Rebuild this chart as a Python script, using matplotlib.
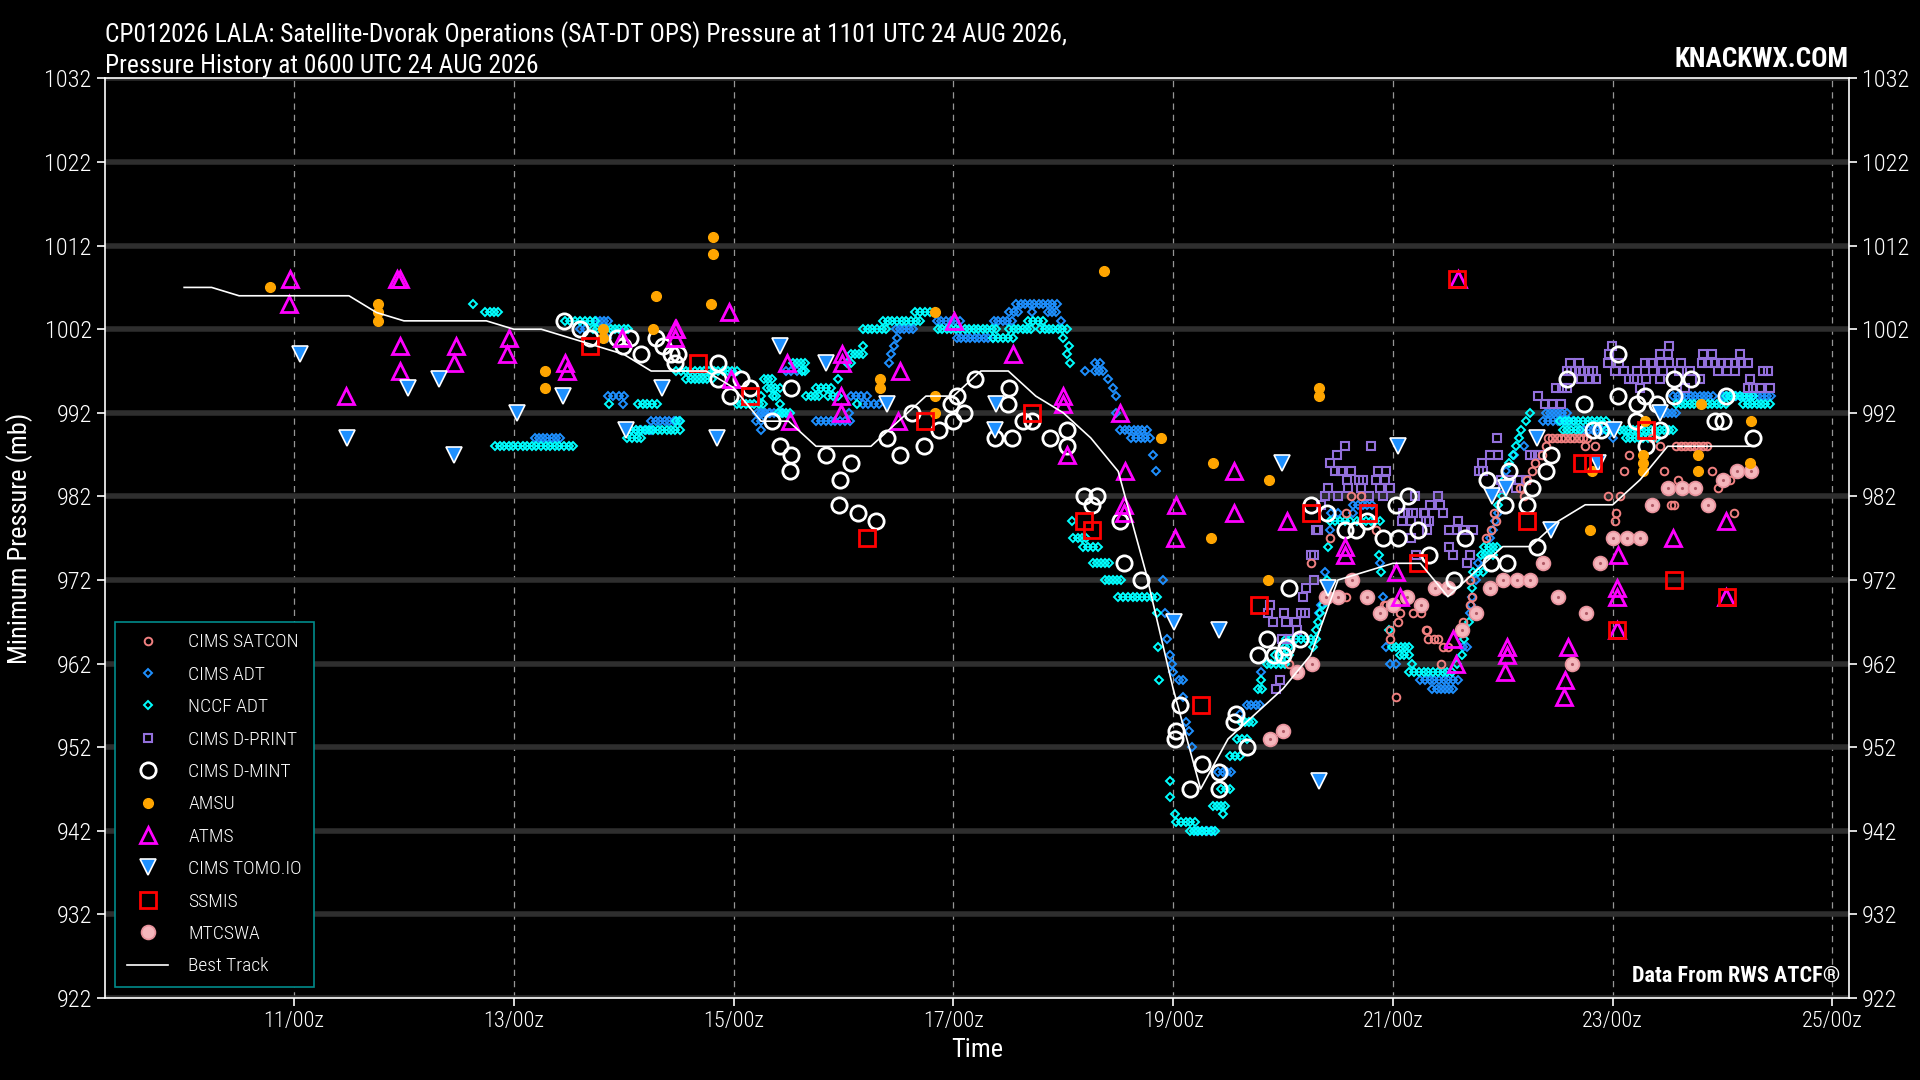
import numpy as np
import matplotlib
matplotlib.use("Agg")
import matplotlib.pyplot as plt
from matplotlib import font_manager
from matplotlib.lines import Line2D

# pick a narrow font if one is around
names = {f.name for f in font_manager.fontManager.ttflist}
for cand in ["Roboto Condensed", "Liberation Sans Narrow", "Open Sans Condensed", "DejaVu Sans"]:
    if cand in names:
        FONT = cand
        break
plt.rcParams["font.family"] = [FONT, "DejaVu Sans"]
plt.rcParams["font.weight"] = "light"

# ---- data (x = day of August 2026, UTC) ----
bt_day = [10.0, 10.25, 10.5, 10.75, 11.0, 11.25, 11.5, 11.75, 12.0, 12.25,
          12.5, 12.75, 13.0, 13.25, 13.5, 13.75, 14.0, 14.25, 14.5, 14.75,
          15.0, 15.25, 15.5, 15.75, 16.0, 16.25, 16.5, 16.75, 17.0, 17.25,
          17.5, 17.75, 18.0, 18.25, 18.5, 18.75, 19.0, 19.25, 19.5, 19.75,
          20.0, 20.25, 20.5, 20.75, 21.0, 21.25, 21.5, 21.75, 22.0, 22.25,
          22.5, 22.75, 23.0, 23.25, 23.5, 23.75, 24.0, 24.25]
bt_p = [1007, 1007, 1006, 1006, 1006, 1006, 1006, 1004, 1003, 1003,
        1003, 1003, 1002, 1002, 1001, 1000, 999, 997, 997, 997,
        995, 991, 991, 988, 988, 988, 991, 994, 994, 997,
        997, 994, 992, 989, 985, 973, 959, 947, 953, 956,
        959, 963, 972, 973, 974, 974, 970, 973, 976, 976,
        979, 981, 981, 984, 988, 988, 988, 988]

satcon_day = [20.05, 20.25, 20.43, 20.57, 20.57, 20.62, 20.71, 20.85, 20.92, 20.94,
              20.97, 20.97, 21.03, 21.05, 21.06, 21.18, 21.26, 21.26, 21.30, 21.31,
              21.32, 21.37, 21.41, 21.44, 21.46, 21.50, 21.64, 21.70, 21.70, 21.72,
              21.85, 21.89, 21.92, 21.94, 22.16, 22.19, 22.22, 22.27, 22.29, 22.36,
              22.39, 22.41, 22.45, 22.49, 22.53, 22.57, 22.61, 22.65, 22.69, 22.73,
              22.77, 22.75, 22.84, 22.96, 23.02, 23.03, 23.07, 23.10, 23.15, 23.36,
              23.43, 23.47, 23.53, 23.56, 23.59, 23.58, 23.62, 23.66, 23.70, 23.74,
              23.78, 23.82, 23.86, 23.90, 23.96, 24.07, 24.10]
satcon_p = [962, 974, 977, 980, 970, 982, 982, 978, 969, 969,
            966, 965, 958, 967, 968, 968, 968, 969, 966, 966,
            965, 965, 965, 962, 964, 964, 967, 969, 972, 970,
            977, 978, 980, 979, 983, 982, 984, 985, 986, 987,
            988, 989, 989, 989, 989, 989, 989, 989, 989, 989,
            989, 988, 988, 982, 979, 980, 982, 985, 987, 989,
            988, 985, 981, 981, 984, 988, 988, 988, 988, 988,
            988, 988, 988, 985, 983, 984, 980]

# ADT estimates come as runs of equal value: start day, end day, pressure
adt_start = [13.19, 13.60, 13.75, 13.85, 13.86, 13.99, 14.07, 14.25, 15.20, 15.25,
             15.21, 15.25, 15.48, 15.75, 16.05, 16.07, 16.18, 16.41, 16.43, 16.46,
             16.49, 16.48, 16.85, 17.03, 17.37, 17.51, 17.57, 17.72, 17.86, 17.98,
             18.20, 18.29, 18.29, 18.41, 18.45, 18.48, 18.48, 18.52, 18.62, 18.82,
             18.84, 18.91, 18.93, 18.94, 18.97, 18.99, 19.00, 19.05, 19.09, 19.12,
             19.14, 19.17, 19.22, 19.41, 19.61, 19.67, 19.80, 20.33, 20.35, 20.38,
             20.43, 20.44, 20.64, 20.64, 20.88, 20.91, 20.94, 20.97, 21.25, 21.36,
             21.64, 21.70, 21.71, 21.72, 21.76, 21.77, 21.88, 21.91, 21.93, 21.96,
             21.99, 22.03, 22.10, 22.19, 22.37, 22.39, 22.70, 23.00, 23.43, 23.55,
             24.00]
adt_end = [13.42, 13.65, 13.86, 13.85, 14.00, 13.99, 14.25, 14.50, 15.25, 15.25,
           15.32, 15.45, 15.62, 16.06, 16.05, 16.21, 16.32, 16.41, 16.43, 16.46,
           16.49, 16.63, 17.06, 17.36, 17.53, 17.59, 17.94, 17.72, 17.93, 17.98,
           18.20, 18.33, 18.36, 18.41, 18.45, 18.48, 18.48, 18.76, 18.79, 18.82,
           18.84, 18.91, 18.93, 18.94, 18.97, 18.99, 19.00, 19.09, 19.09, 19.12,
           19.14, 19.17, 19.35, 19.53, 19.61, 19.79, 19.80, 20.33, 20.35, 20.38,
           20.43, 20.50, 20.64, 20.81, 20.88, 20.91, 20.94, 21.03, 21.59, 21.55,
           21.67, 21.70, 21.71, 21.72, 21.76, 21.77, 21.88, 21.91, 21.93, 21.96,
           21.99, 22.03, 22.10, 22.20, 22.64, 22.58, 22.94, 23.00, 23.58, 23.91,
           24.44]
adt_p = [989, 1002, 1003, 1001, 994, 993, 990, 991, 991, 990,
         992, 992, 997, 991, 992, 994, 993, 998, 999, 1000,
         1001, 1002, 1003, 1001, 1003, 1004, 1005, 1004, 1004, 1003,
         997, 998, 997, 996, 995, 994, 992, 990, 989, 987,
         985, 972, 968, 965, 963, 962, 961, 960, 958, 955,
         954, 952, 942, 949, 956, 957, 961, 968, 969, 973,
         978, 980, 980, 981, 974, 970, 964, 962, 960, 959,
         964, 968, 969, 970, 972, 974, 977, 978, 979, 980,
         983, 985, 987, 988, 991, 992, 990, 989, 992, 994,
         994]

nccf_start = [12.63, 12.74, 12.83, 13.47, 13.72, 13.87, 14.13, 14.03, 14.03, 14.48,
              14.48, 14.57, 15.03, 15.25, 15.28, 15.30, 15.36, 15.42, 15.40, 15.54,
              15.62, 15.66, 15.75, 15.86, 15.95, 16.03, 16.07, 16.12, 16.18, 16.18,
              16.36, 16.65, 16.86, 17.36, 17.51, 17.68, 17.79, 18.00, 18.05, 18.03,
              18.06, 18.08, 18.09, 18.18, 18.27, 18.38, 18.50, 18.85, 18.86, 18.87,
              18.97, 18.97, 19.02, 19.03, 19.15, 19.36, 19.45, 19.44, 19.52, 19.58,
              19.62, 19.77, 19.80, 19.85, 19.93, 20.02, 20.03, 20.27, 20.30, 20.32,
              20.34, 20.36, 20.37, 20.40, 20.41, 20.43, 20.67, 20.87, 20.89, 20.96,
              20.99, 21.06, 21.17, 21.15, 21.58, 21.63, 21.65, 21.69, 21.72, 21.73,
              21.80, 21.83, 21.96, 21.99, 22.01, 22.06, 22.09, 22.12, 22.15, 22.17,
              22.21, 22.25, 22.52, 22.55, 22.94, 23.12, 23.58, 24.03, 24.19]
nccf_end = [12.63, 12.86, 13.54, 13.74, 14.04, 13.88, 14.30, 14.16, 14.51, 14.51,
            15.03, 14.80, 15.27, 15.25, 15.35, 15.42, 15.39, 15.42, 15.51, 15.65,
            15.65, 15.78, 15.89, 15.95, 15.95, 16.07, 16.18, 16.12, 16.18, 16.39,
            16.70, 16.83, 17.39, 17.54, 17.71, 17.82, 18.03, 18.00, 18.05, 18.03,
            18.06, 18.08, 18.21, 18.32, 18.42, 18.53, 18.85, 18.85, 18.86, 18.88,
            18.97, 18.97, 19.02, 19.20, 19.38, 19.47, 19.45, 19.52, 19.61, 19.67,
            19.73, 19.81, 19.80, 20.02, 20.05, 20.05, 20.30, 20.27, 20.30, 20.32,
            20.34, 20.36, 20.37, 20.40, 20.41, 20.61, 20.88, 20.87, 20.89, 20.96,
            21.15, 21.15, 21.17, 21.54, 21.58, 21.63, 21.65, 21.69, 21.72, 21.82,
            21.91, 21.95, 21.96, 21.99, 22.01, 22.06, 22.09, 22.12, 22.15, 22.17,
            22.21, 22.25, 22.94, 22.70, 23.55, 23.40, 24.03, 24.28, 24.43]
nccf_p = [1005, 1004, 988, 1003, 1002, 993, 993, 989, 990, 991,
          997, 996, 993, 994, 996, 995, 994, 993, 992, 998,
          997, 994, 995, 994, 996, 998, 999, 993, 1000, 1002,
          1003, 1004, 1002, 1001, 1002, 1003, 1002, 1001, 1000, 999,
          998, 979, 977, 976, 974, 972, 970, 968, 964, 960,
          948, 946, 944, 943, 942, 945, 944, 947, 951, 953,
          955, 959, 960, 962, 963, 964, 965, 964, 966, 967,
          968, 969, 970, 972, 976, 979, 979, 975, 973, 966,
          964, 963, 962, 961, 962, 963, 965, 967, 971, 973,
          975, 976, 981, 982, 984, 986, 987, 988, 989, 990,
          991, 992, 991, 990, 990, 989, 993, 994, 993]

dprint_day = [20.56, 20.80, 20.49, 20.43, 20.47, 20.53, 20.62, 20.86, 20.94, 20.58,
              20.69, 20.73, 20.85, 20.93, 20.41, 20.59, 20.71, 20.88, 20.97, 20.38,
              20.50, 20.78, 20.91, 20.35, 20.30, 20.32, 20.25, 20.28, 20.28, 20.21,
              20.18, 19.88, 19.86, 20.01, 20.16, 20.20, 19.91, 20.03, 20.12, 19.99,
              20.06, 20.13, 19.97, 19.94, 21.20, 21.29, 21.33, 21.31, 21.16, 21.09,
              21.14, 21.18, 21.08, 21.16, 21.21, 21.41, 21.34, 21.43, 21.28, 21.30,
              21.59, 21.51, 21.58, 21.64, 21.73, 21.46, 21.51, 21.55, 21.70, 21.67,
              21.95, 21.88, 21.96, 21.81, 21.78, 21.82, 21.98, 22.06, 22.15, 22.21,
              22.00, 22.12, 22.32, 22.38, 22.45, 22.53, 22.48, 22.54, 22.58, 22.25,
              22.29, 22.34, 22.61, 22.69, 22.58, 22.62, 22.66, 22.70, 22.74, 22.78,
              22.82, 22.71, 22.79, 22.85, 22.99, 22.97, 22.96, 23.02, 23.10, 23.06,
              23.15, 23.19, 23.22, 23.30, 23.43, 23.25, 23.29, 23.35, 23.44, 23.51,
              23.62, 23.43, 23.50, 23.51, 23.37, 23.46, 23.60, 23.70, 23.79, 23.82,
              23.90, 23.81, 23.87, 23.93, 23.99, 24.05, 24.11, 24.17, 24.23, 23.96,
              24.04, 24.11, 24.16, 24.41, 24.25, 24.23, 24.28, 24.34, 24.43, 23.66,
              24.37]
dprint_p = [988, 988, 987, 986, 985, 985, 985, 985, 985, 984,
            984, 984, 984, 984, 983, 983, 983, 983, 983, 982,
            982, 982, 982, 981, 978, 978, 975, 975, 972, 971,
            970, 969, 968, 968, 968, 968, 967, 967, 967, 965,
            965, 966, 960, 959, 982, 980, 979, 978, 977, 980,
            980, 980, 979, 979, 975, 982, 981, 981, 980, 979,
            979, 978, 978, 978, 978, 980, 976, 975, 975, 974,
            989, 987, 987, 986, 985, 985, 984, 984, 984, 984,
            983, 983, 994, 993, 993, 993, 995, 995, 995, 987,
            987, 987, 998, 998, 997, 997, 997, 997, 997, 997,
            997, 996, 996, 996, 1000, 999, 998, 997, 997, 998,
            996, 996, 997, 996, 996, 995, 998, 998, 998, 998,
            998, 999, 999, 1000, 997, 997, 997, 997, 996, 999,
            999, 998, 998, 998, 998, 998, 998, 998, 998, 997,
            997, 997, 999, 997, 996, 995, 995, 995, 995, 995,
            997]

dmint_day = [13.46, 13.60, 13.69, 13.94, 14.06, 13.99, 14.16, 14.29, 14.36, 14.43,
             14.49, 14.47, 14.86, 14.86, 14.97, 15.07, 15.15, 15.35, 15.42, 15.52,
             15.52, 15.51, 15.84, 15.97, 15.96, 16.07, 16.13, 16.30, 16.40, 16.51,
             16.62, 16.73, 16.87, 16.98, 17.03, 17.00, 17.10, 17.20, 17.51, 17.50,
             17.63, 17.72, 17.38, 17.53, 17.88, 18.03, 18.03, 18.19, 18.31, 18.26,
             18.52, 18.55, 18.71, 19.06, 19.03, 19.02, 19.26, 19.15, 19.42, 19.42,
             19.57, 19.55, 19.67, 19.77, 19.85, 19.92, 20.00, 20.03, 20.05, 20.15,
             20.25, 20.40, 20.56, 20.66, 20.76, 20.91, 21.05, 21.03, 21.14, 21.23,
             21.33, 21.56, 21.66, 21.89, 22.04, 21.86, 22.06, 22.02, 22.22, 22.27,
             22.39, 22.44, 22.31, 22.58, 22.74, 22.82, 22.89, 23.05, 23.05, 23.22,
             23.29, 23.40, 23.21, 23.30, 23.43, 23.56, 23.71, 23.56, 23.93, 24.00,
             24.03, 24.28]
dmint_p = [1003, 1002, 1001, 1001, 1001, 1000, 999, 1001, 1000, 999,
           999, 998, 998, 996, 994, 996, 995, 991, 988, 995,
           987, 985, 987, 984, 981, 986, 980, 979, 989, 987,
           992, 988, 990, 993, 994, 991, 992, 996, 995, 993,
           991, 991, 989, 989, 989, 990, 988, 982, 982, 981,
           979, 974, 972, 957, 954, 953, 950, 947, 949, 947,
           956, 955, 952, 963, 965, 963, 963, 964, 971, 965,
           981, 980, 978, 978, 979, 977, 977, 981, 982, 978,
           975, 972, 977, 974, 974, 984, 985, 981, 981, 983,
           985, 987, 976, 996, 993, 990, 990, 999, 994, 993,
           994, 993, 991, 988, 990, 996, 996, 994, 991, 991,
           994, 989]

amsu_day = [10.78, 11.76, 11.76, 11.76, 13.28, 13.28, 13.81, 13.81, 14.27, 14.29,
            14.79, 14.81, 14.81, 16.33, 16.33, 16.83, 16.83, 16.83, 18.37, 18.89,
            19.34, 19.36, 19.86, 19.87, 20.33, 20.33, 22.79, 22.81, 23.28, 23.28,
            23.28, 23.29, 23.78, 23.78, 23.80, 24.25, 24.26]
amsu_p = [1007, 1005, 1004, 1003, 997, 995, 1002, 1001, 1002, 1006,
          1005, 1011, 1013, 996, 995, 1004, 994, 992, 1009, 989,
          977, 986, 972, 984, 994, 995, 978, 985, 985, 986,
          987, 991, 985, 987, 993, 986, 991]

atms_day = [10.96, 10.95, 11.47, 11.94, 11.96, 11.96, 11.96, 12.47, 12.46, 12.96,
            12.94, 13.47, 13.48, 13.98, 14.47, 14.48, 14.47, 14.96, 14.98, 15.49,
            15.51, 15.99, 15.99, 15.98, 15.98, 16.51, 16.50, 17.01, 17.54, 18.00,
            18.00, 18.03, 18.52, 18.56, 18.55, 18.55, 19.03, 19.02, 19.55, 19.55,
            20.04, 20.56, 20.56, 21.03, 21.06, 21.55, 21.57, 21.59, 22.04, 22.04,
            22.02, 22.59, 22.57, 22.56, 23.05, 23.04, 23.04, 23.04, 23.55, 24.03,
            24.03]
atms_p = [1008, 1005, 994, 1008, 1008, 1000, 997, 1000, 998, 1001,
          999, 998, 997, 1001, 1002, 1002, 1001, 1004, 996, 998,
          991, 999, 998, 994, 992, 997, 991, 1003, 999, 994,
          993, 987, 992, 985, 981, 980, 981, 977, 985, 980,
          979, 976, 975, 973, 970, 965, 962, 1008, 964, 963,
          961, 964, 960, 958, 975, 971, 970, 966, 977, 979,
          970]

tomo_day = [11.05, 11.48, 12.04, 12.32, 12.46, 13.03, 13.45, 14.02, 14.35, 14.85,
            15.42, 15.84, 16.40, 17.39, 17.38, 19.01, 19.42, 19.99, 20.33, 20.41,
            21.05, 21.90, 22.03, 22.31, 22.44, 22.87, 23.01, 23.43]
tomo_p = [999, 989, 995, 996, 987, 992, 994, 990, 995, 989,
          1000, 998, 993, 993, 990, 967, 966, 986, 948, 971,
          988, 982, 983, 989, 978, 986, 990, 992]

ssmis_day = [13.69, 14.68, 15.15, 16.21, 16.74, 17.72, 18.19, 18.26, 19.25, 19.78,
             20.25, 20.77, 21.23, 21.58, 22.22, 22.72, 22.82, 23.04, 23.30, 23.56,
             24.04]
ssmis_p = [1000, 998, 994, 977, 991, 992, 979, 978, 957, 969,
           980, 980, 974, 1008, 979, 986, 986, 966, 990, 972,
           970]

mtcswa_day = [19.88, 20.00, 20.13, 20.26, 20.39, 20.50, 20.63, 20.76, 20.88, 21.00,
              21.13, 21.26, 21.38, 21.50, 21.63, 21.76, 21.88, 22.00, 22.13, 22.25,
              22.37, 22.50, 22.63, 22.76, 22.88, 23.00, 23.13, 23.25, 23.36, 23.50,
              23.63, 23.75, 23.87, 24.00, 24.13, 24.26]
mtcswa_p = [953, 954, 961, 962, 970, 970, 972, 970, 968, 969,
            970, 969, 971, 971, 966, 968, 971, 972, 972, 972,
            974, 970, 962, 968, 974, 977, 977, 977, 981, 983,
            983, 983, 981, 984, 985, 985]

day_ticks = [11, 13, 15, 17, 19, 21, 23, 25]
p_ticks = list(range(922, 1033, 10))


def runs_to_points(starts, ends, vals):
    # ADT comes in roughly hourly; a run is drawn one marker per hour
    xs, ys = [], []
    for s, e, v in zip(starts, ends, vals):
        n = int(round((e - s) * 24)) + 1
        xs.extend(np.linspace(s, e, n))
        ys.extend([v] * n)
    return xs, ys


adt_x, adt_y = runs_to_points(adt_start, adt_end, adt_p)
nccf_x, nccf_y = runs_to_points(nccf_start, nccf_end, nccf_p)

# ---- figure ----
fig = plt.figure(figsize=(19.2, 10.8), dpi=100, facecolor="black")
ax = fig.add_axes([0.0547, 0.0759, 0.9083, 0.8515], facecolor="black")

ax.plot(satcon_day, satcon_p, ls="none", marker="o", ms=5.5, mfc="none", mec="#F08080", mew=1.4, zorder=3)
ax.plot(adt_x, adt_y, ls="none", marker="D", ms=4.2, mfc="none", mec="#1E90FF", mew=1.4, zorder=2)
ax.plot(nccf_x, nccf_y, ls="none", marker="D", ms=4.2, mfc="none", mec="#00FFFF", mew=1.4, zorder=2)
ax.plot(dprint_day, dprint_p, ls="none", marker="s", ms=6, mfc="none", mec="#9370DB", mew=1.5, zorder=2.5)
ax.plot(dmint_day, dmint_p, ls="none", marker="o", ms=11, mfc="none", mec="white", mew=2, zorder=4)
ax.plot(amsu_day, amsu_p, ls="none", marker="o", ms=7, mfc="#FFA500", mec="#FFA500", zorder=4)
ax.plot(atms_day, atms_p, ls="none", marker="^", ms=11, mfc="none", mec="#FF00FF", mew=2, zorder=5)
ax.plot(tomo_day, tomo_p, ls="none", marker="v", ms=11, mfc="#1E90FF", mec="white", mew=1.2, zorder=5)
ax.plot(ssmis_day, ssmis_p, ls="none", marker="s", ms=11, mfc="none", mec="#FF0000", mew=2, zorder=5)
ax.plot(mtcswa_day, mtcswa_p, ls="none", marker="o", ms=10, mfc="#F4B6BC", mec="#E8929C", mew=1.2, zorder=3.5)
ax.plot(mtcswa_day, mtcswa_p, ls="none", marker=".", ms=2.5, color="#B05A66", zorder=3.6)
ax.plot(bt_day, bt_p, color="white", lw=1.2, zorder=6)

ax.set_xlim(9.28, 25.15)
ax.set_ylim(922, 1032)
ax.set_xticks(day_ticks)
ax.set_xticklabels([f"{d}/00z" for d in day_ticks])
ax.set_yticks(p_ticks)

ax.grid(True, axis="y", color="#2e2e2e", lw=4, zorder=0)
ax.grid(True, axis="x", color="#bbbbbb", lw=0.9, ls=(0, (5, 4)), alpha=0.8, zorder=0)
ax.set_axisbelow(True)

for s in ax.spines.values():
    s.set_color("white")
    s.set_linewidth(1.2)
ax.tick_params(colors="white", length=6, width=1.2)
ax.tick_params(axis="y", right=True, labelright=True, labelsize=17.5)
ax.tick_params(axis="x", labelsize=16)

ax.set_xlabel("Time", color="white", fontsize=19, labelpad=4)
ax.set_ylabel("Minimum Pressure (mb)", color="white", fontsize=19, labelpad=8)

ax.set_title("CP012026 LALA: Satellite-Dvorak Operations (SAT-DT OPS) Pressure at 1101 UTC 24 AUG 2026,\n"
             "Pressure History at 0600 UTC 24 AUG 2026",
             loc="left", color="white", fontsize=18.4, fontweight="normal", pad=4, linespacing=1.3)
ax.text(1.0, 1.006, "KNACKWX.COM", transform=ax.transAxes, ha="right", va="bottom",
        color="white", fontsize=19.5, fontweight="bold")
ax.text(0.995, 0.012, "Data From RWS ATCF\u00ae", transform=ax.transAxes, ha="right", va="bottom",
        color="white", fontsize=16, fontweight="bold")

handles = [
    Line2D([], [], ls="none", marker="o", ms=5.5, mfc="none", mec="#F08080", mew=1.4),
    Line2D([], [], ls="none", marker="D", ms=4.5, mfc="none", mec="#1E90FF", mew=1.4),
    Line2D([], [], ls="none", marker="D", ms=4.5, mfc="none", mec="#00FFFF", mew=1.4),
    Line2D([], [], ls="none", marker="s", ms=6, mfc="none", mec="#9370DB", mew=1.5),
    Line2D([], [], ls="none", marker="o", ms=11, mfc="none", mec="white", mew=2),
    Line2D([], [], ls="none", marker="o", ms=7, mfc="#FFA500", mec="#FFA500"),
    Line2D([], [], ls="none", marker="^", ms=11, mfc="none", mec="#FF00FF", mew=2),
    Line2D([], [], ls="none", marker="v", ms=11, mfc="#1E90FF", mec="white", mew=1.2),
    Line2D([], [], ls="none", marker="s", ms=11, mfc="none", mec="#FF0000", mew=2),
    Line2D([], [], ls="none", marker="o", ms=10, mfc="#F4B6BC", mec="#E8929C", mew=1.2),
    Line2D([], [], color="white", lw=1.2),
]
labels = ["CIMS SATCON", "CIMS ADT", "NCCF ADT", "CIMS D-PRINT", "CIMS D-MINT", "AMSU",
          "ATMS", "CIMS TOMO.IO", "SSMIS", "MTCSWA", "Best Track"]
leg = ax.legend(handles, labels, loc="lower left", bbox_to_anchor=(0.006, 0.012), borderaxespad=0,
                fontsize=14, labelcolor="white", facecolor="black", edgecolor="#008B8B",
                framealpha=1, fancybox=False, labelspacing=0.74, handlelength=2.1,
                handletextpad=1.05, borderpad=0.6)
leg.get_frame().set_linewidth(1.2)
leg.set_zorder(10)

fig.savefig("out.png", dpi=100, facecolor="black")
